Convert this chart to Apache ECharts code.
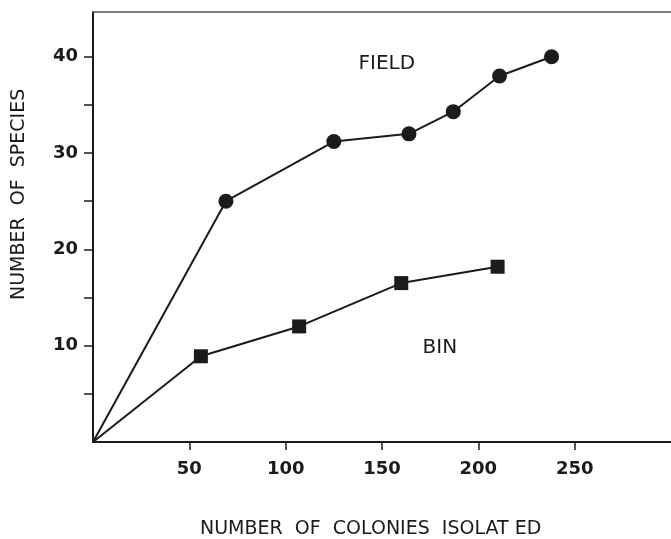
<!DOCTYPE html>
<html>
<head>
<meta charset="utf-8">
<script src="https://cdn.jsdelivr.net/npm/echarts@6/dist/echarts.min.js"></script>
<style>
html,body{margin:0;padding:0;background:#fff;}
#c{width:671px;height:539px;}
</style>
</head>
<body>
<div id="c"></div>
<script>
// Data
const fieldColonies = [0, 69, 125, 164, 187, 211, 238];
const fieldSpecies  = [0, 25, 31.2, 32, 34.3, 38, 40];
const binColonies   = [0, 56, 107, 160, 210];
const binSpecies    = [0, 8.9, 12, 16.5, 18.2];
const xTickValues = [50, 100, 150, 200, 250];
const yTickValues = [5, 10, 15, 20, 25, 30, 35, 40];
const yLabelValues = [10, 20, 30, 40];
const fieldLabel = {name: 'FIELD', x: 152.5, y: 39.3};
const binLabel = {name: 'BIN', x: 180, y: 9.8};
const xTitle = 'NUMBER  OF  COLONIES  ISOLAT ED';
const yTitle = 'NUMBER  OF  SPECIES';

const ink = '#1b1b1b';
const font = 'DejaVu Sans';

function toPairs(xs, ys) {
  return xs.map((x, i) => i === 0 ? {value: [x, ys[i]], symbol: 'none'} : [x, ys[i]]);
}

function textMark(lbl) {
  return {
    symbol: 'circle', symbolSize: 1,
    itemStyle: {color: 'rgba(0,0,0,0)'},
    data: [{coord: [lbl.x, lbl.y], name: lbl.name}],
    label: {show: true, formatter: lbl.name, color: ink, fontFamily: font, fontSize: 20, position: 'inside'}
  };
}

const chart = echarts.init(document.getElementById('c'), null, {renderer: 'canvas'});
chart.setOption({
  animation: false,
  backgroundColor: '#ffffff',
  grid: {left: 93, right: -11, top: 12, bottom: 97, containLabel: false},
  xAxis: [{
    type: 'value', min: 0, max: 300, interval: 50,
    axisLine: {show: true, onZero: false, lineStyle: {color: ink, width: 2}},
    axisTick: {show: true, inside: false, length: 8, customValues: xTickValues, lineStyle: {color: ink, width: 1.5}},
    axisLabel: {show: true, margin: 18, customValues: xTickValues, color: ink, fontFamily: font, fontSize: 18, fontWeight: 'bold'},
    splitLine: {show: false}
  }, {
    type: 'value', position: 'top', min: 0, max: 300,
    axisLine: {show: true, onZero: false, lineStyle: {color: '#555', width: 1.5}},
    axisTick: {show: false}, axisLabel: {show: false}, splitLine: {show: false}
  }],
  yAxis: [{
    type: 'value', min: 0, max: 44.65, interval: 5,
    axisLine: {show: true, onZero: false, lineStyle: {color: ink, width: 2}},
    axisTick: {show: true, inside: false, length: 9, customValues: yTickValues, lineStyle: {color: ink, width: 1.5}},
    axisLabel: {show: true, margin: 15, customValues: yLabelValues, color: ink, fontFamily: font, fontSize: 18, fontWeight: 'bold'},
    splitLine: {show: false}
  }],
  graphic: [
    {type: 'text', left: 200, top: 520, style: {text: xTitle, font: '19px "DejaVu Sans"', fill: ink}},
    {type: 'text', x: 10, y: 300, rotation: Math.PI / 2, style: {text: yTitle, font: '19px "DejaVu Sans"', fill: ink}}
  ],
  series: [{
    name: 'FIELD', type: 'line',
    data: toPairs(fieldColonies, fieldSpecies),
    symbol: 'circle', symbolSize: 15,
    itemStyle: {color: ink},
    lineStyle: {color: ink, width: 2},
    markPoint: textMark(fieldLabel)
  }, {
    name: 'BIN', type: 'line',
    data: toPairs(binColonies, binSpecies),
    symbol: 'rect', symbolSize: 14,
    itemStyle: {color: ink},
    lineStyle: {color: ink, width: 2},
    markPoint: textMark(binLabel)
  }]
});
</script>
</body>
</html>
